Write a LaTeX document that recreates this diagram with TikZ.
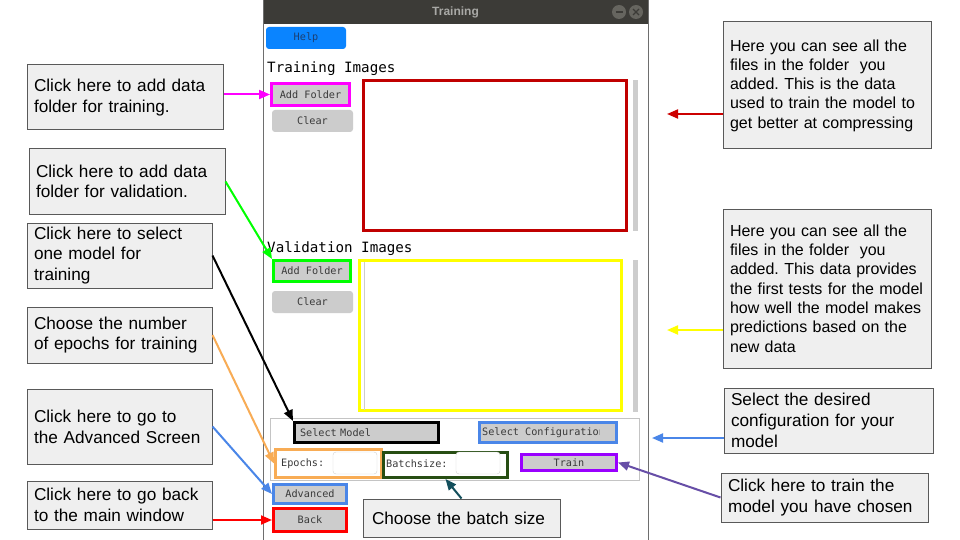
\documentclass[tikz,border=0pt]{standalone}
\usepackage{fontspec}
\setmainfont{Liberation Sans}
\newfontfamily\guifont{DejaVu Sans Mono}
\usepackage{tikz}
\usetikzlibrary{arrows.meta}
\frenchspacing

\definecolor{calloutfill}{HTML}{EFEFEF}
\definecolor{calloutline}{HTML}{595959}
\definecolor{titlebar}{HTML}{3C3B37}
\definecolor{titletext}{HTML}{A9A9A6}
\definecolor{winbtn}{HTML}{66655F}
\definecolor{winframe}{HTML}{6E6E6E}
\definecolor{helpblue}{HTML}{0A84FF}
\definecolor{helptext}{HTML}{1B3F73}
\definecolor{btngray}{HTML}{CCCCCC}
\definecolor{guitext}{HTML}{3A3A3A}
\definecolor{scrollgray}{HTML}{CDCDCD}
\definecolor{fieldline}{HTML}{D2D2D2}
\definecolor{panelline}{HTML}{C4C4C4}
\definecolor{hlmagenta}{HTML}{FF00FF}
\definecolor{hldarkred}{HTML}{C00000}
\definecolor{hlgreen}{HTML}{00FF00}
\definecolor{hlyellow}{HTML}{FFFF00}
\definecolor{hlblue}{HTML}{4A86E8}
\definecolor{hlorange}{HTML}{F8AC55}
\definecolor{hldarkgreen}{HTML}{274E13}
\definecolor{hlpurple}{HTML}{9900FF}
\definecolor{hlred}{HTML}{FF0000}
\definecolor{arrowred}{HTML}{CC0000}
\definecolor{arrowpurple}{HTML}{674EA7}
\definecolor{arrowteal}{HTML}{134F5C}

\begin{document}
\begin{tikzpicture}[x=1pt,y=-1pt,
    callout/.style={draw=calloutline, fill=calloutfill, line width=1pt, inner sep=0pt, align=left},
    bigtext/.style={font=\fontsize{17.2}{20.7}\selectfont},
    smalltext/.style={font=\fontsize{16}{19.3}\selectfont},
    guibtn/.style={fill=btngray, inner sep=0pt, text=guitext, font=\guifont\fontsize{10.2}{12}\selectfont},
    guitext/.style={inner sep=0pt, text=guitext, font=\guifont\fontsize{10.2}{12}\selectfont},
    hlbox/.style={line width=3pt},
    field/.style={draw=fieldline, fill=white, rounded corners=3pt, minimum width=44, minimum height=22, inner sep=0pt},
    note/.style={-{Triangle[length=11pt,width=9pt]}, line width=2pt}]
    \useasboundingbox[fill=white] (0,0) rectangle (960,540);

    % 窗口
    \fill[titlebar] (263,0) rectangle (648,24);
    \node[text=titletext, font=\bfseries\fontsize{12}{14}\selectfont] (title) at (455.5,12) {Training};
    \node[circle, fill=winbtn, minimum size=14, inner sep=0pt] (minbtn) at (619,12) {};
    \node[circle, fill=winbtn, minimum size=14, inner sep=0pt] (closebtn) at (636,12) {};
    \draw[titlebar, line width=1.5pt] ([xshift=-3.5pt]minbtn.center) -- ([xshift=3.5pt]minbtn.center);
    \draw[titlebar, line width=1.2pt] ([shift={(-3pt,-3pt)}]closebtn.center) -- ([shift={(3pt,3pt)}]closebtn.center);
    \draw[titlebar, line width=1.2pt] ([shift={(-3pt,3pt)}]closebtn.center) -- ([shift={(3pt,-3pt)}]closebtn.center);
    \draw[winframe] (263,0) -- (263,540);
    \draw[winframe, line width=1pt] (648,0) -- (648,540);

    \node[fill=helpblue, rounded corners=3pt, minimum width=80, minimum height=22, inner sep=0pt,
        text=helptext, font=\guifont\fontsize{10.2}{12}\selectfont] (helpbtn) at (306,38) {Help};

    % 训练图像
    \node[anchor=base west, inner sep=0pt, font=\guifont\fontsize{14.2}{16}\selectfont] (trainlabel) at (267,72.5) {Training Images};
    \node[guibtn, draw=hlmagenta, hlbox, minimum width=78, minimum height=22] (addtrain) at (310.5,94.5) {Add Folder};
    \node[guibtn, rounded corners=3pt, minimum width=81, minimum height=22] (cleartrain) at (312.5,121) {Clear};
    \node[draw=hldarkred, hlbox, minimum width=263, minimum height=150, inner sep=0pt] (trainlist) at (495,155.5) {};
    \fill[scrollgray] (633,80) rectangle (638,231);

    % 验证图像
    \node[anchor=base west, inner sep=0pt, font=\guifont\fontsize{14.2}{16}\selectfont] (vallabel) at (267,252.3) {Validation Images};
    \node[guibtn, draw=hlgreen, hlbox, minimum width=77, minimum height=21] (addval) at (312,271) {Add Folder};
    \node[guibtn, rounded corners=3pt, minimum width=81, minimum height=22] (clearval) at (312.5,302) {Clear};
    \node[draw=hlyellow, hlbox, minimum width=262, minimum height=150, inner sep=0pt] (vallist) at (490.5,335.5) {};
    \draw[scrollgray] (364,262) -- (364,410);
    \fill[scrollgray] (633,260) rectangle (638,412);

    % 参数面板
    \node[draw=panelline, fill=white, minimum width=369, minimum height=62, inner sep=0pt] (panel) at (454.5,449) {};
    \node[guibtn, draw=black, hlbox, minimum width=144, minimum height=20, text width=133, align=left] (modelbox) at (366.5,432.5) {Select Model};
    \draw[white!60!gray, line width=0.8pt] ([xshift=-14pt]modelbox.east) ++(-4,-2) -- ++(4,4) -- ++(4,-4);
    \node[guibtn, draw=hlblue, hlbox, minimum width=137, minimum height=20] (configbox) at (548,432.5) {};
    \begin{scope}
        \clip ([xshift=1.5pt]configbox.north west) rectangle ([xshift=-19pt]configbox.south east);
        \node[guitext, anchor=west] (configtext) at ([xshift=4pt]configbox.west) {Select Configuration};
    \end{scope}
    \draw[white!60!gray, line width=0.8pt] ([xshift=-11pt]configbox.east) ++(-4,-2) -- ++(4,4) -- ++(4,-4);

    \node[draw=hlorange, fill=white, hlbox, minimum width=106, minimum height=28, inner sep=0pt] (epochbox) at (328.5,463.5) {};
    \node[guitext, anchor=west] (epochlabel) at (281,463.5) {Epochs:};
    \node[field] (epochfield) at (355,463) {};
    \node[draw=hldarkgreen, fill=white, hlbox, minimum width=124, minimum height=25, inner sep=0pt] (batchbox) at (445.5,465) {};
    \node[guitext, anchor=west] (batchlabel) at (386,463.5) {Batchsize:};
    \node[field] (batchfield) at (478,463) {};
    \node[guibtn, draw=hlpurple, hlbox, minimum width=95, minimum height=16] (trainbtn) at (569,462.5) {Train};

    \node[guibtn, draw=hlblue, hlbox, minimum width=73, minimum height=19] (advbtn) at (310,494) {Advanced};
    \node[guibtn, draw=hlred, hlbox, minimum width=73, minimum height=23] (backbtn) at (310,520) {Back};

    % 左侧说明
    \node[callout, bigtext, minimum width=196, minimum height=65, text width=182] (addtrainnote) at (125,97.5)
        {Click here to add data\\folder for training.};
    \node[callout, bigtext, minimum width=196, minimum height=65, text width=182] (addvalnote) at (127,181.5)
        {Click here to add data\\folder for validation.};
    \node[callout, bigtext, minimum width=185, minimum height=65, text width=171] (modelnote) at (119.5,255.5)
        {Click here to select\\one model for\\training};
    \node[callout, bigtext, minimum width=185, minimum height=56, text width=171] (epochnote) at (119.5,335)
        {Choose the number\\of epochs for training};
    \node[callout, bigtext, minimum width=185, minimum height=75, text width=171] (advnote) at (119.5,426.5)
        {Click here to go to\\the Advanced Screen};
    \node[callout, bigtext, minimum width=185, minimum height=48, text width=171] (backnote) at (119.5,505)
        {Click here to go back\\to the main window};

    % 右侧说明
    \node[callout, smalltext, minimum width=208, minimum height=127, text width=194] (trainlistnote) at (827,85.5)
        {Here you can see all the\\files in the folder\ \ you\\added. This is the data\\used to train the model to\\get better at compressing};
    \node[callout, smalltext, minimum width=208, minimum height=159, text width=194] (vallistnote) at (827,288.5)
        {Here you can see all the\\files in the folder\ \ you\\added. This data provides\\the first tests for the model\\how well the model makes\\predictions based on the\\new data};
    \node[callout, bigtext, minimum width=209, minimum height=65, text width=195] (confignote) at (828.5,420.5)
        {Select the desired\\configuration for your\\model};
    \node[callout, bigtext, minimum width=207, minimum height=49, text width=193] (trainnote) at (824.5,497.5)
        {Click here to train the\\model you have chosen};
    \node[callout, bigtext, minimum width=197, minimum height=38, text width=179] (batchnote) at (461.5,518)
        {Choose the batch size};

    \coordinate (trainlisttip) at (667,114);
    \coordinate (vallisttip) at (667,330);
    \coordinate (configtip) at (652,438);

    % 箭头
    \draw[note, hlmagenta] (addtrainnote.east |- addtrain.west) -- (addtrain.west);
    \draw[note, hlgreen] (addvalnote.east) -- (addval.north west);
    \draw[note, black] (modelnote.east) -- (modelbox.north west);
    \draw[note, hlorange] (epochnote.east) -- (epochbox.west);
    \draw[note, hlblue] (advnote.east) -- (advbtn.west);
    \draw[note, hlred] (backnote.east |- backbtn.west) -- (backbtn.west);
    \draw[note, arrowred] (trainlistnote.west |- trainlisttip) -- (trainlisttip);
    \draw[note, hlyellow] (vallistnote.west |- vallisttip) -- (vallisttip);
    \draw[note, hlblue] (confignote.west |- configtip) -- (configtip);
    \draw[note, arrowpurple] (trainnote.west) -- (trainbtn.east);
    \draw[note, arrowteal] (batchnote.north) -- (batchbox.south);
\end{tikzpicture}
\end{document}
